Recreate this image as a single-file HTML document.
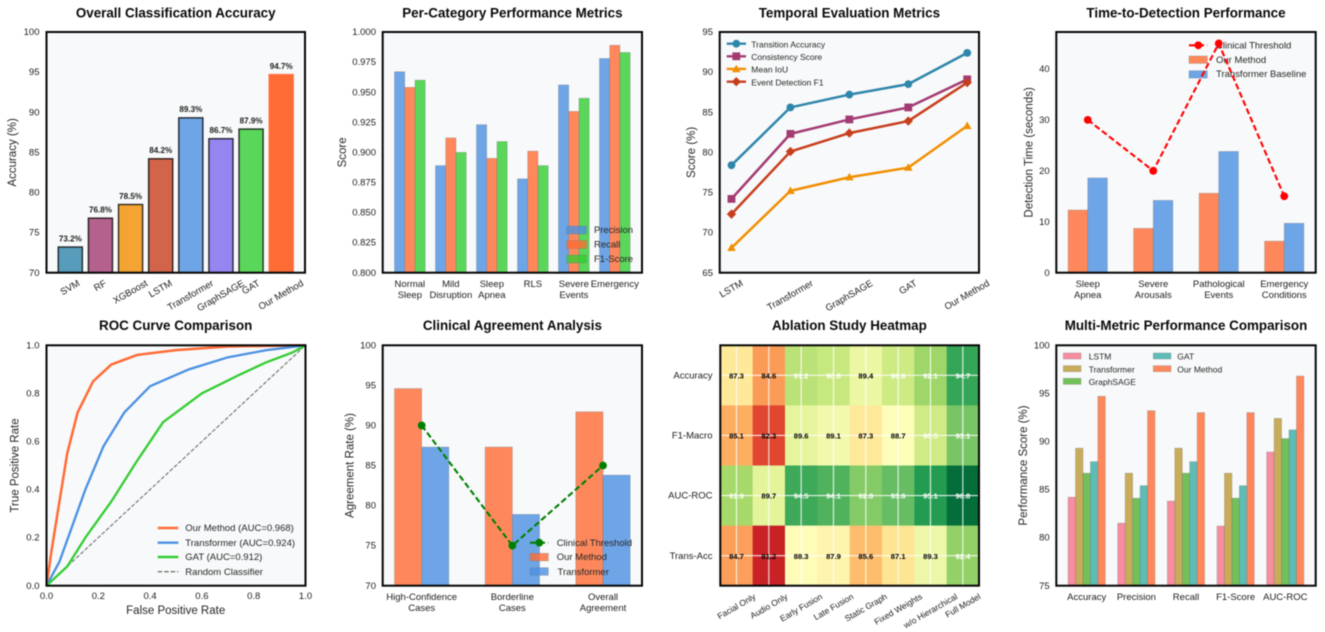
<!DOCTYPE html>
<html>
<head>
<meta charset="utf-8">
<title>Model Evaluation Dashboard</title>
<style>
html,body{margin:0;padding:0;background:#fff;}
#chart{display:block;filter:blur(0.45px);}
text{font-family:"Liberation Sans",Arial,sans-serif;fill:#1c1c1c;}
.title{font-size:13.4px;font-weight:bold;text-anchor:middle;fill:#0a0a0a;dominant-baseline:central;}
.axis-label{font-size:11.5px;text-anchor:middle;dominant-baseline:central;fill:#262626;}
.leg{font-size:9.5px;dominant-baseline:central;fill:#262626;}
.frame{fill:none;stroke:#050505;stroke-width:2;}
.bg{fill:#f8f9fa;}
</style>
</head>
<body>
<svg id="chart" width="1325" height="632" viewBox="0 0 1325 632" xmlns="http://www.w3.org/2000/svg">
<rect width="1325" height="632" fill="#fff"/>

<g>
  <text class="title" x="175.7" y="13">Overall Classification Accuracy</text>
  <rect class="bg" x="46.5" y="32" width="258.5" height="240.7"/>
  <g id="p1-marks"></g>
  <rect class="frame" x="46.5" y="32" width="258.5" height="240.7"/>
  <g id="p1-ticks"></g>
  <text class="axis-label" transform="translate(13.2 152.4) rotate(-90)">Accuracy (%)</text>
</g>

<g>
  <text class="title" x="512.4" y="13">Per-Category Performance Metrics</text>
  <rect class="bg" x="382.7" y="32" width="259.3" height="240.7"/>
  <g id="p2-marks"></g>
  <g>
    <rect x="566.7" y="226" width="20" height="8" fill="#4A90E2" fill-opacity=".8" stroke="#777" stroke-opacity=".5" stroke-width=".6"/>
    <text class="leg" x="594" y="230">Precision</text>
    <rect x="566.7" y="240.5" width="20" height="8" fill="#FF6B35" fill-opacity=".8" stroke="#777" stroke-opacity=".5" stroke-width=".6"/>
    <text class="leg" x="594" y="244.4">Recall</text>
    <rect x="566.7" y="255" width="20" height="8" fill="#32CD32" fill-opacity=".8" stroke="#777" stroke-opacity=".5" stroke-width=".6"/>
    <text class="leg" x="594" y="258.8">F1-Score</text>
  </g>
  <rect class="frame" x="382.7" y="32" width="259.3" height="240.7"/>
  <g id="p2-ticks"></g>
  <text class="axis-label" transform="translate(342.8 152.4) rotate(-90)">Score</text>
</g>

<g>
  <text class="title" x="849.4" y="13">Temporal Evaluation Metrics</text>
  <rect class="bg" x="719.7" y="32" width="259.3" height="240.7"/>
  <g id="p3-marks"></g>
  <g>
    <line x1="726.7" x2="746" y1="43.7" y2="43.7" stroke="#2E86AB" stroke-width="2.4"/>
    <circle cx="736.3" cy="43.7" r="3.9" fill="#2E86AB"/>
    <text class="leg" style="font-size:8.5px" x="751.3" y="43.7">Transition Accuracy</text>
    <line x1="726.7" x2="746" y1="56.3" y2="56.3" stroke="#A23B72" stroke-width="2.4"/>
    <rect x="732.4" y="52.4" width="7.8" height="7.8" fill="#A23B72"/>
    <text class="leg" style="font-size:8.5px" x="751.3" y="56.3">Consistency Score</text>
    <line x1="726.7" x2="746" y1="68.9" y2="68.9" stroke="#F18F01" stroke-width="2.4"/>
    <polygon points="736.3,64.7 740.6,72.2 732,72.2" fill="#F18F01"/>
    <text class="leg" style="font-size:8.5px" x="751.3" y="68.9">Mean IoU</text>
    <line x1="726.7" x2="746" y1="81.7" y2="81.7" stroke="#C73E1D" stroke-width="2.4"/>
    <polygon points="736.3,77 741,81.7 736.3,86.4 731.6,81.7" fill="#C73E1D"/>
    <text class="leg" style="font-size:8.5px" x="751.3" y="81.7">Event Detection F1</text>
  </g>
  <rect class="frame" x="719.7" y="32" width="259.3" height="240.7"/>
  <g id="p3-ticks"></g>
  <text class="axis-label" transform="translate(692.2 152.4) rotate(-90)">Score (%)</text>
</g>

<g>
  <text class="title" x="1186" y="13">Time-to-Detection Performance</text>
  <rect class="bg" x="1056.3" y="32" width="259.4" height="240.7"/>
  <g id="p4-marks"></g>
  <g>
    <line x1="1189" x2="1207.3" y1="45.3" y2="45.3" stroke="#f00" stroke-width="2.1" stroke-dasharray="6 3"/>
    <circle cx="1198.3" cy="45.3" r="3.9" fill="#f00"/>
    <text class="leg" x="1216" y="45.3">Clinical Threshold</text>
    <rect x="1189" y="56" width="18.3" height="7.4" fill="#FF6B35" fill-opacity=".8" stroke="#777" stroke-opacity=".5" stroke-width=".6"/>
    <text class="leg" x="1216" y="59.7">Our Method</text>
    <rect x="1189" y="70.7" width="18.3" height="7.4" fill="#4A90E2" fill-opacity=".8" stroke="#777" stroke-opacity=".5" stroke-width=".6"/>
    <text class="leg" x="1216" y="74">Transformer Baseline</text>
  </g>
  <g id="p4-line"></g>
  <rect class="frame" x="1056.3" y="32" width="259.4" height="240.7"/>
  <g id="p4-ticks"></g>
  <text class="axis-label" transform="translate(1029.5 152.4) rotate(-90)">Detection Time (seconds)</text>
</g>

<g>
  <text class="title" x="175.7" y="325.7">ROC Curve Comparison</text>
  <rect class="bg" x="46.5" y="345.3" width="259" height="240.4"/>
  <g id="p5-marks"></g>
  <g>
    <line x1="157.7" x2="178.3" y1="528" y2="528" stroke="#FF6B35" stroke-width="2.4"/>
    <text class="leg" x="185.3" y="528">Our Method (AUC=0.968)</text>
    <line x1="157.7" x2="178.3" y1="542.7" y2="542.7" stroke="#4A90E2" stroke-width="2.4"/>
    <text class="leg" x="185.3" y="542.7">Transformer (AUC=0.924)</text>
    <line x1="157.7" x2="178.3" y1="557" y2="557" stroke="#32CD32" stroke-width="2.4"/>
    <text class="leg" x="185.3" y="557">GAT (AUC=0.912)</text>
    <line x1="157.7" x2="178.3" y1="571.7" y2="571.7" stroke="#555" stroke-width="1.1" stroke-dasharray="4.5 2"/>
    <text class="leg" x="185.3" y="571.7">Random Classifier</text>
  </g>
  <rect class="frame" x="46.5" y="345.3" width="259" height="240.4"/>
  <g id="p5-ticks"></g>
  <text class="axis-label" transform="translate(15.5 465.5) rotate(-90)">True Positive Rate</text>
  <text class="axis-label" x="175.7" y="610.4">False Positive Rate</text>
</g>

<g>
  <text class="title" x="512.4" y="325.7">Clinical Agreement Analysis</text>
  <rect class="bg" x="382.7" y="345.3" width="259.3" height="240.4"/>
  <g id="p6-marks"></g>
  <g>
    <line x1="530" x2="548.3" y1="542.7" y2="542.7" stroke="#008000" stroke-width="2.1" stroke-dasharray="6 3"/>
    <circle cx="539.3" cy="542.7" r="3.9" fill="#008000"/>
    <text class="leg" x="556.7" y="542.7">Clinical Threshold</text>
    <rect x="530" y="553.3" width="18.3" height="7.6" fill="#FF6B35" fill-opacity=".8" stroke="#777" stroke-opacity=".5" stroke-width=".6"/>
    <text class="leg" x="556.7" y="557">Our Method</text>
    <rect x="530" y="567.7" width="18.3" height="7.6" fill="#4A90E2" fill-opacity=".8" stroke="#777" stroke-opacity=".5" stroke-width=".6"/>
    <text class="leg" x="557.5" y="571.7">Transformer</text>
  </g>
  <rect class="frame" x="382.7" y="345.3" width="259.3" height="240.4"/>
  <g id="p6-ticks"></g>
  <text class="axis-label" transform="translate(350.5 465.5) rotate(-90)">Agreement Rate (%)</text>
</g>

<g>
  <text class="title" x="849.4" y="325.7">Ablation Study Heatmap</text>
  <g id="p7-marks"></g>
  <rect class="frame" x="720.3" y="345.3" width="258.7" height="240.4"/>
  <g id="p7-ticks"></g>
</g>

<g>
  <text class="title" x="1186" y="325.7">Multi-Metric Performance Comparison</text>
  <rect class="bg" x="1056.3" y="345.3" width="259.4" height="240.4"/>
  <g id="p8-marks"></g>
  <g>
    <rect x="1063.3" y="353" width="17.7" height="6" fill="#F77189" fill-opacity=".8" stroke="#777" stroke-opacity=".5" stroke-width=".6"/>
    <text class="leg" style="font-size:8.5px" x="1088.7" y="356">LSTM</text>
    <rect x="1063.3" y="365.7" width="17.7" height="6" fill="#BB9832" fill-opacity=".8" stroke="#777" stroke-opacity=".5" stroke-width=".6"/>
    <text class="leg" style="font-size:8.5px" x="1088.7" y="368.7">Transformer</text>
    <rect x="1063.3" y="378.3" width="17.7" height="6" fill="#50B131" fill-opacity=".8" stroke="#777" stroke-opacity=".5" stroke-width=".6"/>
    <text class="leg" style="font-size:8.5px" x="1088.7" y="381.3">GraphSAGE</text>
    <rect x="1153.3" y="353" width="17.7" height="6" fill="#36ADA4" fill-opacity=".8" stroke="#777" stroke-opacity=".5" stroke-width=".6"/>
    <text class="leg" style="font-size:8.5px" x="1177.3" y="356">GAT</text>
    <rect x="1153.3" y="365.7" width="17.7" height="6" fill="#FF6B35" fill-opacity=".8" stroke="#777" stroke-opacity=".5" stroke-width=".6"/>
    <text class="leg" style="font-size:8.5px" x="1177.3" y="368.7">Our Method</text>
  </g>
  <rect class="frame" x="1056.3" y="345.3" width="259.4" height="240.4"/>
  <g id="p8-ticks"></g>
  <text class="axis-label" transform="translate(1023.8 465.5) rotate(-90)">Performance Score (%)</text>
</g>
</svg>

<script>
// ---- Chart 1: overall accuracy ----
const accuracyModels = ['SVM','RF','XGBoost','LSTM','Transformer','GraphSAGE','GAT','Our Method'];
const accuracyValues = [73.2,76.8,78.5,84.2,89.3,86.7,87.9,94.7];
const accuracyColors = ['#2E86AB','#A23B72','#F18F01','#C73E1D','#4A90E2','#7B68EE','#32CD32','#FF6B35'];
const accuracyTicks = ['70','75','80','85','90','95','100'];

// ---- Chart 2: per-category metrics ----
const categoryLabels = ['Normal\nSleep','Mild\nDisruption','Sleep\nApnea','RLS','Severe\nEvents','Emergency'];
const categoryPrecision = [0.967,0.889,0.923,0.878,0.956,0.978];
const categoryRecall = [0.954,0.912,0.895,0.901,0.934,0.989];
const categoryF1 = [0.960,0.900,0.909,0.889,0.945,0.983];
const categoryTicks = ['0.800','0.825','0.850','0.875','0.900','0.925','0.950','0.975','1.000'];

// ---- Chart 3: temporal metrics ----
const temporalModels = ['LSTM','Transformer','GraphSAGE','GAT','Our Method'];
const temporalTransition = [78.4,85.6,87.2,88.5,92.4];
const temporalConsistency = [74.2,82.3,84.1,85.6,89.1];
const temporalIoU = [68.1,75.2,76.9,78.1,83.3];
const temporalEventF1 = [72.3,80.1,82.4,83.9,88.7];
const temporalTicks = ['65','70','75','80','85','90','95'];

// ---- Chart 4: time to detection ----
const detectionLabels = ['Sleep\nApnea','Severe\nArousals','Pathological\nEvents','Emergency\nConditions'];
const detectionOurs = [12.3,8.7,15.6,6.2];
const detectionTransformer = [18.6,14.2,23.8,9.7];
const detectionThreshold = [30,20,45,15];
const detectionTicks = ['0','10','20','30','40'];

// ---- Chart 5: ROC curves ----
const rocOursFpr = [0,0.02,0.05,0.08,0.12,0.18,0.25,0.35,0.5,0.7,1];
const rocOursTpr = [0,0.15,0.35,0.55,0.72,0.85,0.92,0.96,0.98,0.995,1];
const rocTransformerFpr = [0,0.05,0.1,0.15,0.22,0.3,0.4,0.55,0.7,0.85,1];
const rocTransformerTpr = [0,0.1,0.25,0.4,0.58,0.72,0.83,0.9,0.95,0.98,1];
const rocGatFpr = [0,0.08,0.15,0.25,0.35,0.45,0.6,0.75,0.85,0.95,1];
const rocGatTpr = [0,0.08,0.2,0.35,0.52,0.68,0.8,0.88,0.93,0.97,1];
const rocRandomFpr = [0,1];
const rocRandomTpr = [0,1];
const rocTicks = ['0.0','0.2','0.4','0.6','0.8','1.0'];

// ---- Chart 6: clinical agreement ----
const agreementLabels = ['High-Confidence\nCases','Borderline\nCases','Overall\nAgreement'];
const agreementOurs = [94.6,87.3,91.7];
const agreementTransformer = [87.3,78.9,83.8];
const agreementThreshold = [90,75,85];
const agreementTicks = ['70','75','80','85','90','95','100'];

// ---- Chart 7: ablation heatmap ----
const heatColumns = ['Facial Only','Audio Only','Early Fusion','Late Fusion','Static Graph','Fixed Weights','w/o Hierarchical','Full Model'];
const heatRows = ['Accuracy','F1-Macro','AUC-ROC','Trans-Acc'];
const heatAccuracy = [87.3,84.6,91.2,90.8,89.4,90.6,92.1,94.7];
const heatF1Macro = [85.1,82.3,89.6,89.1,87.3,88.7,90.5,93.1];
const heatAucRoc = [91.9,89.7,94.5,94.1,92.8,93.6,95.1,96.8];
const heatTransAcc = [84.7,81.2,88.3,87.9,85.6,87.1,89.3,92.4];
const heatRamp = ['#a50026','#d73027','#f46d43','#fdae61','#fee08b','#ffffbf','#d9ef8b','#a6d96a','#66bd63','#1a9850','#006837'];

// ---- Chart 8: multi metric ----
const multiMetrics = ['Accuracy','Precision','Recall','F1-Score','AUC-ROC'];
const multiLstm = [84.2,81.5,83.8,81.2,88.9];
const multiTransformer = [89.3,86.7,89.3,86.7,92.4];
const multiGraphSage = [86.7,84.1,86.7,84.1,90.3];
const multiGat = [87.9,85.4,87.9,85.4,91.2];
const multiOurs = [94.7,93.2,93.0,93.0,96.8];
const multiTicks = ['75','80','85','90','95','100'];

const NS = 'http://www.w3.org/2000/svg';
function g(id){return document.getElementById(id);}
function make(parent, tag, attrs){
  const el = document.createElementNS(NS, tag);
  for (const k in attrs) el.setAttribute(k, attrs[k]);
  parent.appendChild(el);
  return el;
}
function linear(d0,d1,r0,r1){return v => r0 + (v-d0)*(r1-r0)/(d1-d0);}

function yTickLabels(parent, labels, y, right){
  labels.forEach(lab => {
    const t = make(parent,'text',{x:right,y:y(parseFloat(lab)),'text-anchor':'end','dominant-baseline':'central','font-size':9.5});
    
    
    t.textContent = lab;
  });
}
function xCategoryLabels(parent, labels, x, top, size){
  labels.forEach((lab,i) => {
    lab.split('\n').forEach((line,j) => {
      const t = make(parent,'text',{x:x(i),y:top+j*10.7,'text-anchor':'middle','dominant-baseline':'central','font-size':size||9.5});
      
      
      t.textContent = line;
    });
  });
}
function xRotatedLabels(parent, labels, x, top, size){
  labels.forEach((lab,i) => {
    const t = make(parent,'text',{x:x(i),y:top,'text-anchor':'middle','dominant-baseline':'central','font-size':size});
    
    
    t.textContent = lab;
    const w = t.getComputedTextLength();
    const cy = top + (w*0.5 + size*0.5)/2;
    t.setAttribute('y', cy);
    t.setAttribute('transform', 'rotate(-30 '+x(i)+' '+cy+')');
  });
}
function barAttrs(cx, w, y, v, base, color){
  const top = y(v);
  return {x:cx-w/2,y:top,width:w,height:base-top,fill:color,'fill-opacity':.8,stroke:'#777','stroke-opacity':.5,'stroke-width':.6};
}
function polyPoints(xs, ys, x, y){return xs.map((v,i)=>x(v)+','+y(ys[i])).join(' ');}

// Chart 1
(function(){
  const marks = g('p1-marks'), ticks = g('p1-ticks');
  const x = linear(-0.79,7.79,46.5,305), y = linear(70,100,272.7,32), step = x(1)-x(0);
  accuracyValues.forEach((v,i) => {
    const isOurs = i === accuracyValues.length-1;
    const a = barAttrs(x(i), step*0.8, y, v, 272.7, accuracyColors[i]);
    a['fill-opacity'] = isOurs ? 1 : .8;
    a.stroke = isOurs ? accuracyColors[i] : '#000';
    a['stroke-opacity'] = .8;
    a['stroke-width'] = 1.4;
    const b = make(marks,'rect',a);
    
    
    const t = make(marks,'text',{x:x(i),y:y(v)-8.8,'text-anchor':'middle','dominant-baseline':'central','font-size':8.1,'font-weight':'bold',fill:'#111'});
    
    
    t.textContent = v.toFixed(1)+'%';
  });
  yTickLabels(ticks, accuracyTicks, y, 39.5);
  xRotatedLabels(ticks, accuracyModels, x, 280.5, 9.5);
})();

// Chart 2
(function(){
  const marks = g('p2-marks'), ticks = g('p2-ticks');
  const x = linear(-0.6625,5.6625,382.7,642), y = linear(0.8,1,272.7,32), step = x(1)-x(0), w = step*0.25;
  categoryPrecision.forEach((v,i) => {
    const b = make(marks,'rect',barAttrs(x(i-0.25), w, y, v, 272.7, '#4A90E2'));
    
    
  });
  categoryRecall.forEach((v,i) => {
    const b = make(marks,'rect',barAttrs(x(i), w, y, v, 272.7, '#FF6B35'));
    
    
  });
  categoryF1.forEach((v,i) => {
    const b = make(marks,'rect',barAttrs(x(i+0.25), w, y, v, 272.7, '#32CD32'));
    
    
  });
  yTickLabels(ticks, categoryTicks, y, 376);
  xCategoryLabels(ticks, categoryLabels, x, 284);
})();

// Chart 3
(function(){
  const marks = g('p3-marks'), ticks = g('p3-ticks');
  const x = linear(-0.2,4.2,719.7,979), y = linear(65,95,272.7,32);
  const idx = temporalModels.map((_,i)=>i);
  function line(values, color){
    return make(marks,'polyline',{points:polyPoints(idx,values,x,y),fill:'none',stroke:color,'stroke-width':2.5,'stroke-linejoin':'round'});
  }
  const l1 = line(temporalTransition,'#2E86AB');
  
  
  temporalTransition.forEach((v,i) => {
    const m = make(marks,'circle',{cx:x(i),cy:y(v),r:3.9,fill:'#2E86AB'});
    
    
  });
  const l2 = line(temporalConsistency,'#A23B72');
  
  
  temporalConsistency.forEach((v,i) => {
    const m = make(marks,'rect',{x:x(i)-3.9,y:y(v)-3.9,width:7.8,height:7.8,fill:'#A23B72'});
    
    
  });
  const l3 = line(temporalIoU,'#F18F01');
  
  
  temporalIoU.forEach((v,i) => {
    const px = x(i), py = y(v);
    const m = make(marks,'polygon',{points:(px)+','+(py-4.4)+' '+(px+4.3)+','+(py+3.2)+' '+(px-4.3)+','+(py+3.2),fill:'#F18F01'});
    
    
  });
  const l4 = line(temporalEventF1,'#C73E1D');
  
  
  temporalEventF1.forEach((v,i) => {
    const px = x(i), py = y(v);
    const m = make(marks,'polygon',{points:px+','+(py-4.7)+' '+(px+4.7)+','+py+' '+px+','+(py+4.7)+' '+(px-4.7)+','+py,fill:'#C73E1D'});
    
    
  });
  yTickLabels(ticks, temporalTicks, y, 713);
  xRotatedLabels(ticks, temporalModels, x, 280.5, 9.5);
})();

// Chart 4
(function(){
  const marks = g('p4-marks'), over = g('p4-line'), ticks = g('p4-ticks');
  const x = linear(-0.48,3.48,1056.3,1315.7), y = linear(0,47.25,272.7,32), step = x(1)-x(0), w = step*0.3;
  detectionOurs.forEach((v,i) => {
    const b = make(marks,'rect',barAttrs(x(i-0.15), w, y, v, 272.7, '#FF6B35'));
    
    
  });
  detectionTransformer.forEach((v,i) => {
    const b = make(marks,'rect',barAttrs(x(i+0.15), w, y, v, 272.7, '#4A90E2'));
    
    
  });
  const l = make(over,'polyline',{points:polyPoints(detectionThreshold.map((_,i)=>i),detectionThreshold,x,y),fill:'none',stroke:'#f00','stroke-width':2.1,'stroke-dasharray':'6 3'});
  
  
  detectionThreshold.forEach((v,i) => {
    const m = make(over,'circle',{cx:x(i),cy:y(v),r:3.9,fill:'#f00'});
    
    
  });
  yTickLabels(ticks, detectionTicks, y, 1049.7);
  xCategoryLabels(ticks, detectionLabels, x, 284);
})();

// Chart 5
(function(){
  const marks = g('p5-marks'), ticks = g('p5-ticks');
  const x = linear(0,1,46.5,305.5), y = linear(0,1,585.7,345.3);
  const r = make(marks,'polyline',{points:polyPoints(rocRandomFpr,rocRandomTpr,x,y),fill:'none',stroke:'#111','stroke-opacity':.65,'stroke-width':1,'stroke-dasharray':'4 1.8'});
  
  
  const o = make(marks,'polyline',{points:polyPoints(rocOursFpr,rocOursTpr,x,y),fill:'none',stroke:'#FF6B35','stroke-width':2.5});
  
  
  const t = make(marks,'polyline',{points:polyPoints(rocTransformerFpr,rocTransformerTpr,x,y),fill:'none',stroke:'#4A90E2','stroke-width':2.3});
  
  
  const a = make(marks,'polyline',{points:polyPoints(rocGatFpr,rocGatTpr,x,y),fill:'none',stroke:'#32CD32','stroke-width':2.3});
  
  
  yTickLabels(ticks, rocTicks, y, 39.5);
  rocTicks.forEach(lab => {
    const tx = make(ticks,'text',{x:x(parseFloat(lab)),y:596,'text-anchor':'middle','dominant-baseline':'central','font-size':9.5});
    
    
    tx.textContent = lab;
  });
})();

// Chart 6
(function(){
  const marks = g('p6-marks'), ticks = g('p6-ticks');
  const x = linear(-0.43,2.43,382.7,642), y = linear(70,100,585.7,345.3), step = x(1)-x(0), w = step*0.3;
  agreementOurs.forEach((v,i) => {
    const b = make(marks,'rect',barAttrs(x(i-0.15), w, y, v, 585.7, '#FF6B35'));
    
    
  });
  agreementTransformer.forEach((v,i) => {
    const b = make(marks,'rect',barAttrs(x(i+0.15), w, y, v, 585.7, '#4A90E2'));
    
    
  });
  const l = make(marks,'polyline',{points:polyPoints(agreementThreshold.map((_,i)=>i),agreementThreshold,x,y),fill:'none',stroke:'#008000','stroke-width':2.1,'stroke-dasharray':'6 3'});
  
  
  agreementThreshold.forEach((v,i) => {
    const m = make(marks,'circle',{cx:x(i),cy:y(v),r:3.9,fill:'#008000'});
    
    
  });
  yTickLabels(ticks, agreementTicks, y, 376);
  xCategoryLabels(ticks, agreementLabels, x, 597);
})();

// Chart 7
(function(){
  const marks = g('p7-marks'), ticks = g('p7-ticks');
  const heatMatrix = [heatAccuracy,heatF1Macro,heatAucRoc,heatTransAcc];
  const x = linear(0,heatColumns.length,720.3,979), y = linear(0,heatRows.length,345.3,585.7);
  function hex(c){return [1,3,5].map(k=>parseInt(c.substr(k,2),16));}
  function color(v){
    const p = Math.max(0,Math.min(1,(v-80)/17))*(heatRamp.length-1);
    const i = Math.min(heatRamp.length-2,Math.floor(p)), f = p-i;
    const a = hex(heatRamp[i]), b = hex(heatRamp[i+1]);
    return 'rgb('+a.map((c,k)=>Math.round(c+(b[k]-c)*f)).join(',')+')';
  }
  heatMatrix.forEach((row,r) => row.forEach((v,c) => {
    const cell = make(marks,'rect',{x:x(c),y:y(r),width:x(c+1)-x(c)+.3,height:y(r+1)-y(r)+.3,fill:color(v)});
    
    
  }));
  heatColumns.forEach((_,c) => {
    const gl = make(marks,'line',{x1:x(c+.5),x2:x(c+.5),y1:345.3,y2:585.7,stroke:'#fff','stroke-width':1.1,'stroke-opacity':.85});
    
    
  });
  heatRows.forEach((_,r) => {
    const gl = make(marks,'line',{x1:720.3,x2:979,y1:y(r+.5),y2:y(r+.5),stroke:'#fff','stroke-width':1.1,'stroke-opacity':.85});
    
    
  });
  heatMatrix.forEach((row,r) => row.forEach((v,c) => {
    const t = make(marks,'text',{x:x(c+.5),y:y(r+.5),'text-anchor':'middle','dominant-baseline':'central','font-size':7.6,'font-weight':'bold'});
    t.style.fill = v > 90 ? '#fff' : '#000';
    
    
    t.textContent = v.toFixed(1);
  }));
  heatRows.forEach((lab,r) => {
    const t = make(ticks,'text',{x:712.5,y:y(r+.5),'text-anchor':'end','dominant-baseline':'central','font-size':9.5});
    
    
    t.textContent = lab;
  });
  xRotatedLabels(ticks, heatColumns, c => x(c+.5), 593.5, 8.5);
})();

// Chart 8
(function(){
  const marks = g('p8-marks'), ticks = g('p8-ticks');
  const x = linear(-0.6125,4.6125,1056.3,1315.7), y = linear(75,100,585.7,345.3), step = x(1)-x(0), w = step*0.15;
  multiLstm.forEach((v,i) => {
    const b = make(marks,'rect',barAttrs(x(i-0.3), w, y, v, 585.7, '#F77189'));
    
    
  });
  multiTransformer.forEach((v,i) => {
    const b = make(marks,'rect',barAttrs(x(i-0.15), w, y, v, 585.7, '#BB9832'));
    
    
  });
  multiGraphSage.forEach((v,i) => {
    const b = make(marks,'rect',barAttrs(x(i), w, y, v, 585.7, '#50B131'));
    
    
  });
  multiGat.forEach((v,i) => {
    const b = make(marks,'rect',barAttrs(x(i+0.15), w, y, v, 585.7, '#36ADA4'));
    
    
  });
  multiOurs.forEach((v,i) => {
    const b = make(marks,'rect',barAttrs(x(i+0.3), w, y, v, 585.7, '#FF6B35'));
    
    
  });
  yTickLabels(ticks, multiTicks, y, 1049.7);
  xCategoryLabels(ticks, multiMetrics, x, 597);
})();

// Nudge horizontal text down slightly so glyph centres match the reference baseline.
document.querySelectorAll('svg text:not([transform]):not(.title)').forEach(t => {
  t.setAttribute('y', parseFloat(t.getAttribute('y')) + 0.6);
});
</script>
</body>
</html>
